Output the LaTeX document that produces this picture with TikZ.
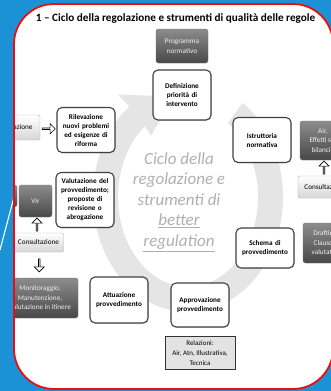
\documentclass[tikz,border=0pt]{standalone}
\usepackage{fontspec}
\setmainfont{Carlito}
\usetikzlibrary{shapes.arrows,shadows,calc}

\definecolor{slideblue}{RGB}{28,146,214}
\definecolor{framered}{RGB}{238,12,12}

\tikzset{
	cyclebox/.style={draw=black!75,line width=1.1pt,fill=white,rounded corners=5pt,
		align=center,text width=55pt,inner sep=1.5pt,
		font=\fontsize{7.2}{9}\selectfont\bfseries,
		drop shadow={opacity=0.25,shadow xshift=0.8pt,shadow yshift=-0.8pt}},
	darkbox/.style={top color=black!45,bottom color=black!72,draw=black!55,
		rounded corners=2.5pt,align=center,text=gray!12,inner sep=1pt,
		font=\fontsize{7.2}{9.5}\selectfont},
	lightbox/.style={top color=white,bottom color=gray!32,draw=gray!60,
		rounded corners=2pt,align=center,inner sep=1pt,
		font=\fontsize{7.2}{9.5}\selectfont},
	relbox/.style={fill=gray!22,draw=black!80,line width=0.7pt,align=center,
		inner sep=1pt,font=\fontsize{7}{10}\selectfont},
	blockarrow/.style={single arrow,draw=black,fill=white,line width=0.6pt,
		minimum height=13pt,minimum width=10pt,single arrow head extend=1.8pt,
		inner sep=0pt}
}

\begin{document}
\begin{tikzpicture}[x=1pt,y=-1pt]
	\useasboundingbox (0,0) rectangle (331,391);
	\fill[slideblue] (0,0) rectangle (331,391);
	\draw[white,line width=1.1pt] (0,250) -- (14,197);

	\begin{scope}
	\clip[rounded corners=40pt] (14,4) rectangle (333,389);
	\fill[white] (0,0) rectangle (340,391);

	% title
	\begin{scope}
		\clip (33,0) rectangle (340,40);
		\node[anchor=base west,inner sep=0pt,font=\fontsize{11.2}{13}\selectfont\bfseries]
			(title) at (4.7,21) {Figura 1 -- Ciclo della regolazione e strumenti di qualità delle regole};
	\end{scope}

	% circular arrow
	\begin{scope}[shift={(188,197)},yscale=-1]
		\fill[gray!20] (55:95 and 115) arc[start angle=55,end angle=-232,x radius=95,y radius=115]
			-- (128:114 and 130) -- (100:82 and 102) -- (128:60 and 78)
			-- (128:70 and 90) arc[start angle=-232,end angle=55,x radius=70,y radius=90] -- cycle;
	\end{scope}

	\node[font=\fontsize{17}{20.5}\selectfont\itshape,text=gray!62,align=center]
		(cyc) at (179,202) {Ciclo della\\regolazione e\\strumenti di\\\underline{better}\\\underline{regulation}};

	% cycle
	\node[darkbox,minimum width=52pt,minimum height=34pt] (prog) at (182,46) {Programma\\normativo};
	\node[cyclebox,minimum height=50pt] (defin) at (182,95) {Definizione\\priorità di\\intervento};
	\node[cyclebox,minimum height=45pt] (istr) at (262,140) {Istruttoria\\normativa};
	\node[cyclebox,minimum height=40pt] (schema) at (265,248) {Schema di\\provvedimento};
	\node[cyclebox,minimum height=44pt] (approv) at (200,305) {Approvazione\\provvedimento};
	\node[cyclebox,minimum height=46pt] (attua) at (119,300) {Attuazione\\provvedimento};
	\node[cyclebox,minimum height=55pt] (valut) at (85,200) {Valutazione del\\provvedimento;\\proposte di\\revisione o\\abrogazione};
	\node[cyclebox,minimum height=45pt] (rilev) at (86,130) {Rilevazione\\nuovi problemi\\ed esigenze di\\riforma};
	\node[relbox,minimum width=70pt,minimum height=33pt] (rel) at (200,353) {Relazioni:\\Air, Atn, Illustrativa,\\Tecnica};

	% right side
	\node[darkbox,minimum width=46pt,minimum height=39pt] (air) at (323,140.5) {Air,\\Effetti sul\\bilancio};
	\node[lightbox,minimum width=54pt,minimum height=22pt] (consR) at (325,187) {Consultazione};
	\node[blockarrow,shape border rotate=90] (arrR) at ($(air.south)!.5!(consR.north)$) {};
	\node[darkbox,minimum width=46pt,minimum height=40pt] (draft) at (326,243) {Drafting,\\Clausole\\valutative};

	% left side
	\node[lightbox,minimum width=56pt,minimum height=25pt] (consA) at (12,127.5) {Consultazione};
	\node[blockarrow] (arrA) at ($(consA.east)!.5!(rilev.west)$) {};
	\node[darkbox,minimum width=37pt,minimum height=22pt] (strip) at (-1.5,196) {};
	\node[darkbox,minimum width=33pt,minimum height=32pt] (vir) at (35.5,201) {Vir};
	\node[lightbox,minimum width=50pt,minimum height=19pt] (consB) at (38.5,242.5) {Consultazione};
	\node[blockarrow,shape border rotate=90] (arrV) at ($(vir.south)!.5!(consB.north)$) {};
	\node[darkbox,minimum width=76pt,minimum height=40pt] (monit) at (40,298) {Monitoraggio,\\Manutenzione,\\Valutazione in itinere};
	\node[blockarrow,shape border rotate=270] (arrM) at ($(consB.south)!.5!(monit.north)$) {};
	\end{scope}

	\draw[framered,line width=1.8pt,rounded corners=40pt] (14,4) rectangle (333,389);
\end{tikzpicture}
\end{document}
